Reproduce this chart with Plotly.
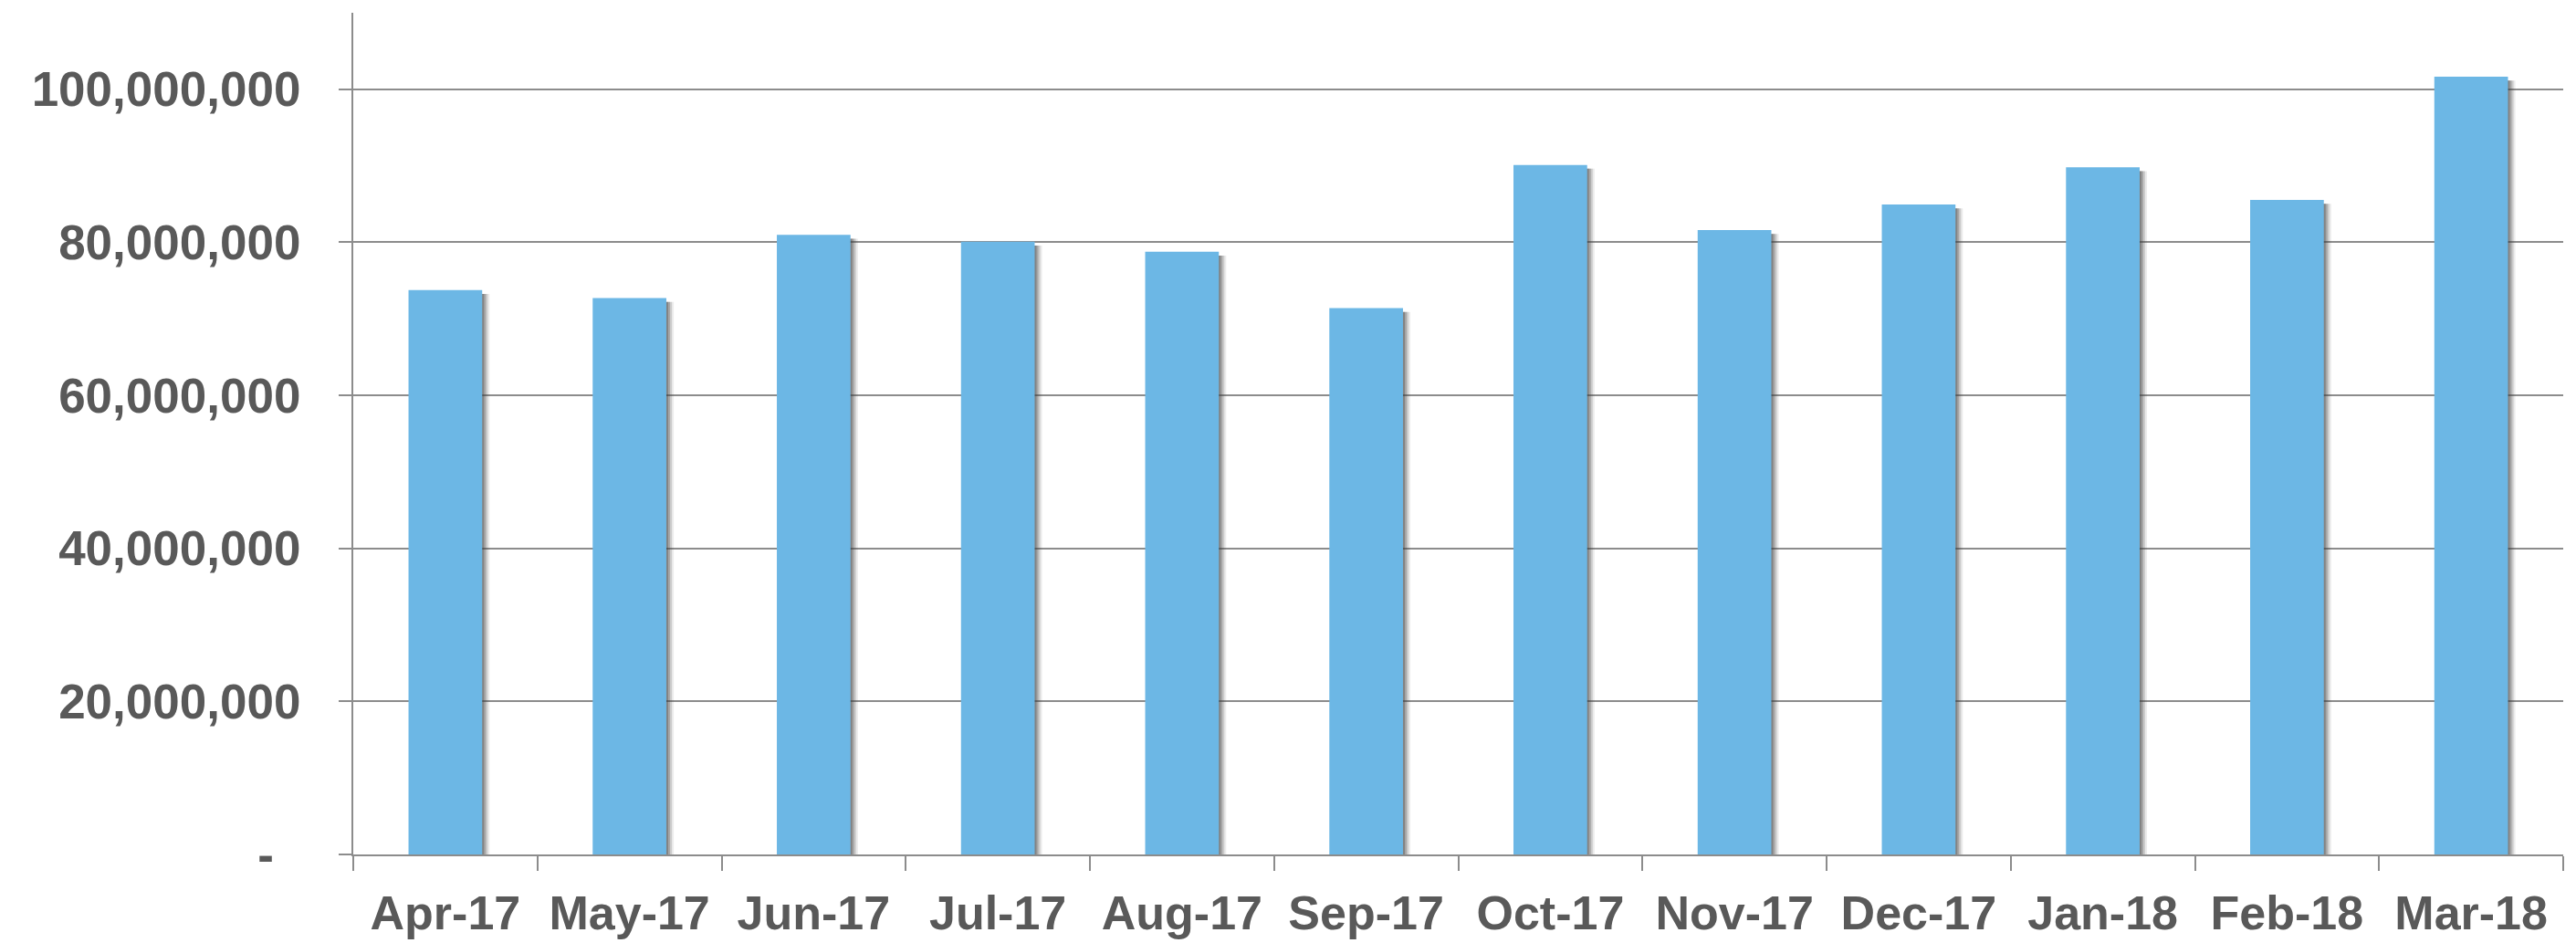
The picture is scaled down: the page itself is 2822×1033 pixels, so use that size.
import plotly.graph_objects as go

months = ["Apr-17", "May-17", "Jun-17", "Jul-17", "Aug-17", "Sep-17",
          "Oct-17", "Nov-17", "Dec-17", "Jan-18", "Feb-18", "Mar-18"]
values = [73_750_000, 72_720_000, 80_970_000, 80_090_000, 78_770_000, 71_410_000,
          90_120_000, 81_600_000, 84_950_000, 89_810_000, 85_540_000, 101_640_000]
tick_vals = [0, 20_000_000, 40_000_000, 60_000_000, 80_000_000, 100_000_000]
tick_text = ["-\u00a0\u00a0", "20,000,000", "40,000,000", "60,000,000",
             "80,000,000", "100,000,000"]

W, H = 2822, 1033
BAR_W = 0.40
BAR_COLOR = "#6CB7E5"
TEXT_COLOR = "#595959"
LINE_COLOR = "#8C8C8C"
FONT = "Liberation Sans, Arial, sans-serif"

fig = go.Figure()

# soft drop shadow (layered, offset to the right)
for dx, op in [(0.040, 0.10), (0.030, 0.18), (0.020, 0.26), (0.010, 0.32)]:
    fig.add_trace(go.Bar(
        x=months, y=[v - 500_000 for v in values],
        width=BAR_W, offset=-BAR_W / 2 + dx,
        marker=dict(color="rgba(60,60,60,%.2f)" % op, line=dict(width=0)),
        hoverinfo="skip", showlegend=False,
    ))

fig.add_trace(go.Bar(
    x=months, y=values, width=BAR_W, offset=-BAR_W / 2,
    marker=dict(color=BAR_COLOR, line=dict(width=0)),
    showlegend=False,
))

# page body has an 8px default margin; margins compensate for it
fig.update_layout(
    width=W, height=H,
    margin=dict(l=379, r=22, t=6, b=105, autoexpand=False),
    paper_bgcolor="white", plot_bgcolor="white",
    barmode="overlay",
    font=dict(family=FONT, size=52, color=TEXT_COLOR),
)

fig.update_xaxes(
    type="category", automargin=False,
    showline=True, linecolor=LINE_COLOR, linewidth=2,
    ticks="outside", tickson="boundaries", ticklen=16, tickwidth=2, tickcolor=LINE_COLOR,
    tickfont=dict(family=FONT, size=52, color=TEXT_COLOR, weight="bold"),
    ticklabelstandoff=18,
    showgrid=False,
)

fig.update_yaxes(
    range=[0, 110_000_000], automargin=False,
    tickvals=tick_vals, ticktext=tick_text,
    showline=True, linecolor=LINE_COLOR, linewidth=2,
    ticks="outside", ticklen=14, tickwidth=2, tickcolor=LINE_COLOR,
    showgrid=True, gridcolor=LINE_COLOR, gridwidth=2,
    zeroline=False,
    tickfont=dict(family=FONT, size=53, color=TEXT_COLOR, weight="bold"),
    ticklabelstandoff=31,
)

fig.write_html("out.html")
